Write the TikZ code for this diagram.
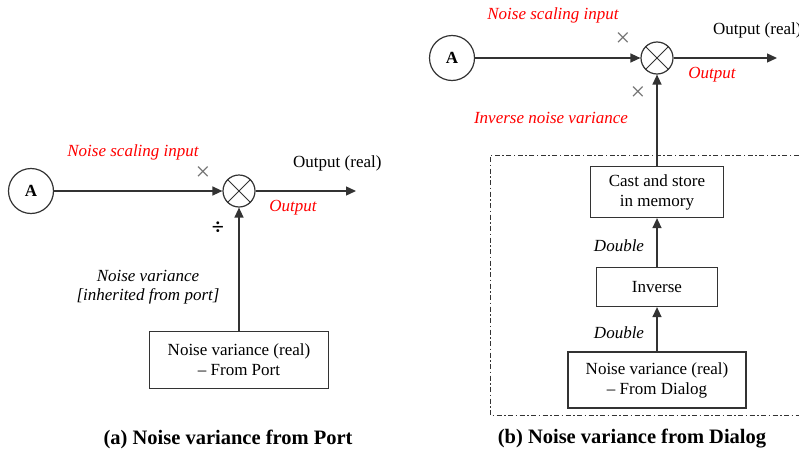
\documentclass[tikz,border=0pt]{standalone}
\usepackage{fontspec}
\setmainfont{Liberation Serif}
\usetikzlibrary{arrows.meta}
\definecolor{lc}{HTML}{333333}
\definecolor{rd}{HTML}{FF0000}
\definecolor{xc}{HTML}{707070}
\begin{document}
\begin{tikzpicture}[x=1pt,y=-1pt,
  txt/.style={font=\fontsize{17}{20}\selectfont, inner sep=0pt, align=center},
  itl/.style={font=\fontsize{17}{19}\selectfont\itshape, inner sep=0pt, align=center},
  redlbl/.style={itl, text=rd},
  blockbox/.style={draw=lc, line width=1.2pt, font=\fontsize{17}{20}\selectfont, inner sep=0pt, align=center},
  srccirc/.style={draw=lc, line width=1.2pt, circle, minimum size=45pt, inner sep=0pt, font=\fontsize{17}{20}\selectfont\bfseries},
  multcirc/.style={draw=lc, line width=1.2pt, circle, minimum size=32pt, inner sep=0pt},
  conn/.style={draw=lc, line width=1.3pt, -{Triangle[length=10pt,width=9pt]}},
  xmark/.style={font=\fontsize{26}{28}\selectfont, text=xc, inner sep=0pt},
  caption/.style={font=\fontsize{20.5}{24}\selectfont\bfseries, inner sep=0pt}
]
\useasboundingbox (0,0) rectangle (799,455);

% ---------- (a) ----------
\node[srccirc] (A1) at (31,191) {A};
\node[multcirc] (M1) at (239,191) {};
\draw[lc, line width=1pt] (M1.north west) -- (M1.south east) (M1.north east) -- (M1.south west);
\coordinate (O1) at (356,191);
\draw[conn] (A1) -- (M1);
\draw[conn] (M1) -- (O1);
\node[blockbox, minimum width=179pt, minimum height=57pt] (B1) at (239,360) {Noise variance (real)\\– From Port};
\draw[conn] (B1) -- (M1);
\node[redlbl] (nsi1) at (133,152) {Noise scaling input};
\node[xmark] (x1) at (203,174) {×};
\node[txt, anchor=west] (out1) at (293,163) {Output (real)};
\node[redlbl] (o1) at (293,208) {Output};
\node[font=\fontsize{22}{24}\selectfont\bfseries, inner sep=0pt] (div1) at (218,228) {÷};
\node[itl] (nv1) at (148,287) {Noise variance\\{[inherited from port]}};
\node[caption] (cap1) at (228,439) {(a) Noise variance from Port};

% ---------- (b) ----------
\node[srccirc] (A2) at (452,58) {A};
\node[multcirc] (M2) at (657,58) {};
\draw[lc, line width=1pt] (M2.north west) -- (M2.south east) (M2.north east) -- (M2.south west);
\coordinate (O2) at (777,58);
\draw[conn] (A2) -- (M2);
\draw[conn] (M2) -- (O2);
\node[redlbl] (nsi2) at (553,15) {Noise scaling input};
\node[xmark] (x2) at (623,40) {×};
\node[txt, anchor=west] (out2) at (713,30) {Output (real)};
\node[redlbl] (o2) at (712,75) {Output};
\node[xmark] (x3) at (638,94) {×};
\node[redlbl] (inv2) at (551,118) {Inverse noise variance};

\draw[lc, line width=0.9pt, dash pattern=on 5pt off 2.5pt on 1.5pt off 2.5pt]
  (810,155) -- (490,155) -- (490,415) -- (810,415);

\node[blockbox, minimum width=133pt, minimum height=51pt] (C2) at (657,192) {Cast and store\\in memory};
\node[blockbox, minimum width=121pt, minimum height=39pt] (I2) at (657,287) {Inverse};
\node[blockbox, minimum width=178pt, minimum height=56pt] (B2) at (657,380) {Noise variance (real)\\– From Dialog};
\draw[conn] (B2) -- (I2);
\draw[conn] (I2) -- (C2);
\draw[conn] (C2) -- (M2);
\node[itl] (d1) at (619,246) {Double};
\node[itl] (d2) at (619,333) {Double};
\node[caption] (cap2) at (632,439) {(b) Noise variance from Dialog};
\end{tikzpicture}
\end{document}
